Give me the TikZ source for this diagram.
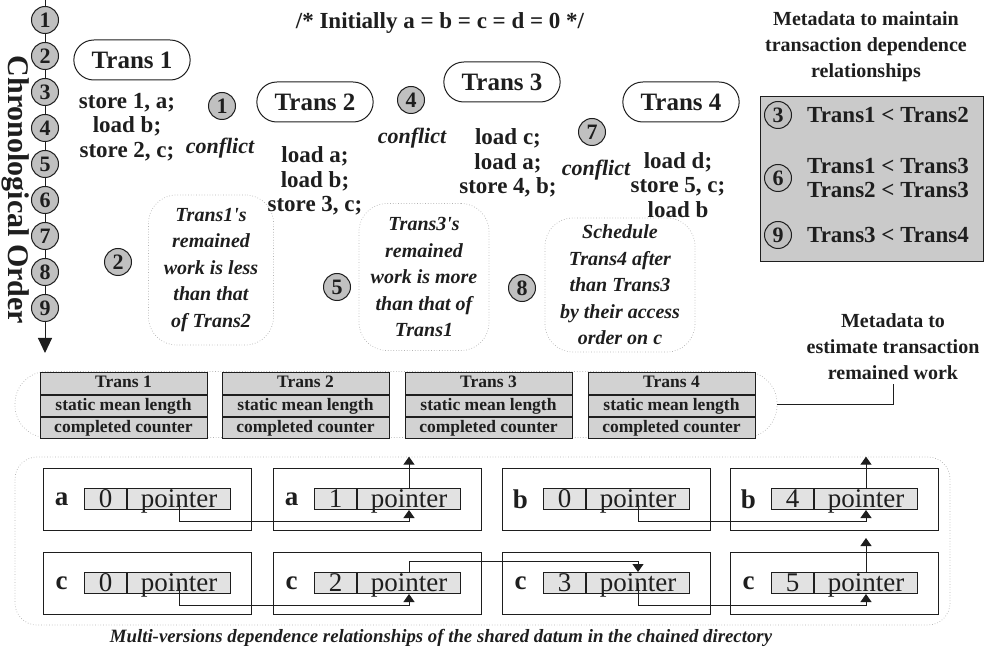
\documentclass[tikz,border=0pt]{standalone}
\usepackage{fontspec}
\setmainfont{Liberation Serif}
\usetikzlibrary{positioning,arrows.meta,shapes.misc}

\definecolor{numgray}{RGB}{192,192,192}
\definecolor{boxgray}{RGB}{202,202,202}
\definecolor{cellgray}{RGB}{210,210,210}
\definecolor{recgray}{RGB}{226,226,226}
\definecolor{ink}{RGB}{30,30,30}

\begin{document}
\begin{tikzpicture}[x=1pt, y=-1pt, line width=1pt, color=ink,
    num node/.style={circle, draw, fill=numgray, inner sep=0pt, minimum size=27pt,
      font=\fontsize{22}{22}\selectfont\bfseries},
    trans node/.style={rounded rectangle, draw, minimum width=123pt, minimum height=40pt,
      font=\fontsize{25}{25}\selectfont\bfseries},
    code/.style={align=center, inner sep=1pt, font=\fontsize{23}{24.5}\selectfont\bfseries},
    remark/.style={font=\fontsize{22}{22}\selectfont\bfseries\itshape},
    bubble/.style={draw=gray!60, dotted, line width=0.7pt, rounded corners=28pt, align=center,
      font=\fontsize{20}{26.5}\selectfont\bfseries\itshape},
    head/.style={align=center, font=\fontsize{20}{26}\selectfont\bfseries},
    cell/.style={draw, fill=cellgray, minimum width=167pt, minimum height=21pt, inner sep=0pt,
      text height=13pt, text depth=4pt, font=\fontsize{17.5}{18}\selectfont\bfseries},
    holder/.style={draw=gray!60, dotted, line width=0.7pt},
    verbox/.style={draw, minimum width=208pt, minimum height=62pt},
    reccell/.style={draw, fill=recgray, inner sep=0pt, minimum height=21pt,
      text height=19pt, text depth=2pt, font=\fontsize{27}{27}\selectfont},
    ptr/.style={-{Triangle[length=8pt,width=11pt]}}]
  \useasboundingbox (0,0) rectangle (991,652);

  % time line
  \coordinate (ttop) at (45,0);
  \coordinate (tend) at (45,353);
  \foreach \k in {1,...,9}
    \node[num node] (t\k) at (45,{20+(\k-1)*36}) {\k};
  \draw (ttop) -- (t1);
  \foreach \k [evaluate=\k as \j using int(\k+1)] in {1,...,8}
    \draw (t\k) -- (t\j);
  \draw[-{Triangle[length=15pt,width=14pt]}] (t9) -- (tend);
  \node[rotate=-90, font=\fontsize{30}{30}\selectfont\bfseries] (chron) at (16,190) {Chronological Order};

  % transactions
  \node[code] (init) at (440,23) {/* Initially a = b = c = d = 0 */};
  \node[trans node] (tr1) at (132,60) {Trans 1};
  \node[trans node] (tr2) at (315,102) {Trans 2};
  \node[trans node] (tr3) at (502,82) {Trans 3};
  \node[trans node] (tr4) at (681,102) {Trans 4};
  \node[code] (code1) at (127,127) {store 1, a;\\load b;\\store 2, c;};
  \node[code] (code2) at (315,181) {load a;\\load b;\\store 3, c;};
  \node[code] (code3) at (508,163) {load c;\\load a;\\store 4, b;};
  \node[code] (code4) at (678,185) {load d;\\store 5, c;\\load b};

  \node[num node] (s1) at (222,106) {1};
  \node[remark] (cf1) at (220,148) {conflict};
  \node[num node] (s4) at (411,100) {4};
  \node[remark] (cf4) at (412,138) {conflict};
  \node[num node] (s7) at (592,132) {7};
  \node[remark] (cf7) at (596,170) {conflict};

  \node[num node] (s2) at (118,262) {2};
  \node[bubble, minimum width=125pt, minimum height=150pt] (n2) at (211,270)
    {Trans1\textquotesingle s\\remained\\work is less\\than that\\of Trans2};
  \node[num node] (s5) at (337,287) {5};
  \node[bubble, minimum width=130pt, minimum height=147pt] (n5) at (424,277)
    {Trans3\textquotesingle s\\remained\\work is more\\than that of\\Trans1};
  \node[num node] (s8) at (522,288) {8};
  \node[bubble, minimum width=150pt, minimum height=134pt] (n8) at (620,285)
    {Schedule\\Trans4 after\\than Trans3\\by their access\\order on c};

  % dependence metadata
  \node[head] (dephead) at (866,47) {Metadata to maintain\\transaction dependence\\relationships};
  \node[draw, fill=boxgray, minimum width=223pt, minimum height=165pt] (dep) at (871.5,179.5) {};
  \node[num node] (s3) at (778,115) {3};
  \node[code] (d1) at (888,115) {Trans1 < Trans2};
  \node[num node] (s6) at (778,178) {6};
  \node[code] (d2) at (888,178) {Trans1 < Trans3\\Trans2 < Trans3};
  \node[num node] (s9) at (778,235) {9};
  \node[code] (d3) at (888,235) {Trans3 < Trans4};

  % remained work metadata
  \node[holder, rounded corners=32pt, minimum width=762pt, minimum height=66pt] (wl) at (396,404.5) {};
  \foreach \i/\x in {1/123.5,2/305.5,3/488.5,4/671.5} {
    \node[cell] (w\i a) at (\x,383.5) {Trans \i};
    \node[cell, below=0pt of w\i a] (w\i b) {static mean length};
    \node[cell, below=0pt of w\i b] (w\i c) {completed counter};
  }
  \node[head] (wnote) at (893,347) {Metadata to\\estimate transaction\\remained work};
  \draw (wl.east) -| (wnote.south);

  % chained directory
  \node[holder, rounded corners=22pt, minimum width=935pt, minimum height=168pt] (dl) at (482.5,541) {};
  \foreach \n/\x/\y/\l/\v in {a1/147/499/a/0, a2/377/499/a/1, b1/606/499/b/0, b2/834/499/b/4,
                              c1/147/583/c/0, c2/377/583/c/2, c3/606/583/c/3, c4/834/583/c/5} {
    \node[verbox] (\n) at (\x,\y) {};
    \node[font=\fontsize{27}{27}\selectfont\bfseries] (\n-l) at ([xshift=19pt]\n.west) {\l};
    \node[reccell, minimum width=42pt] (\n-v) at ([xshift=63pt]\n.west) {\v};
    \node[reccell, minimum width=103pt, right=0pt of \n-v] (\n-p) {pointer};
  }
  \draw[ptr] (a1-p.center) -- ++(0,22) -| (a2-p.south);
  \draw[ptr] (a2-p.north) -- (a2-p.north |- dl.north);
  \draw[ptr] (b1-p.center) -- ++(0,22) -| (b2-p.south);
  \draw[ptr] (b2-p.north) -- (b2-p.north |- dl.north);
  \draw[ptr] (c1-p.center) -- ++(0,22) -| (c2-p.south);
  \draw[ptr] (c2-p.north) -- ++(0,-11) -| (c3-p.north);
  \draw[ptr] (c3-p.center) -- ++(0,22) -| (c4-p.south);
  \draw[ptr] (c4-p.north) -- ++(0,-34);
  \node[remark, font=\fontsize{18.8}{19}\selectfont\bfseries\itshape] (cap) at (441,638)
    {Multi-versions dependence relationships of the shared datum in the chained directory};
\end{tikzpicture}
\end{document}
